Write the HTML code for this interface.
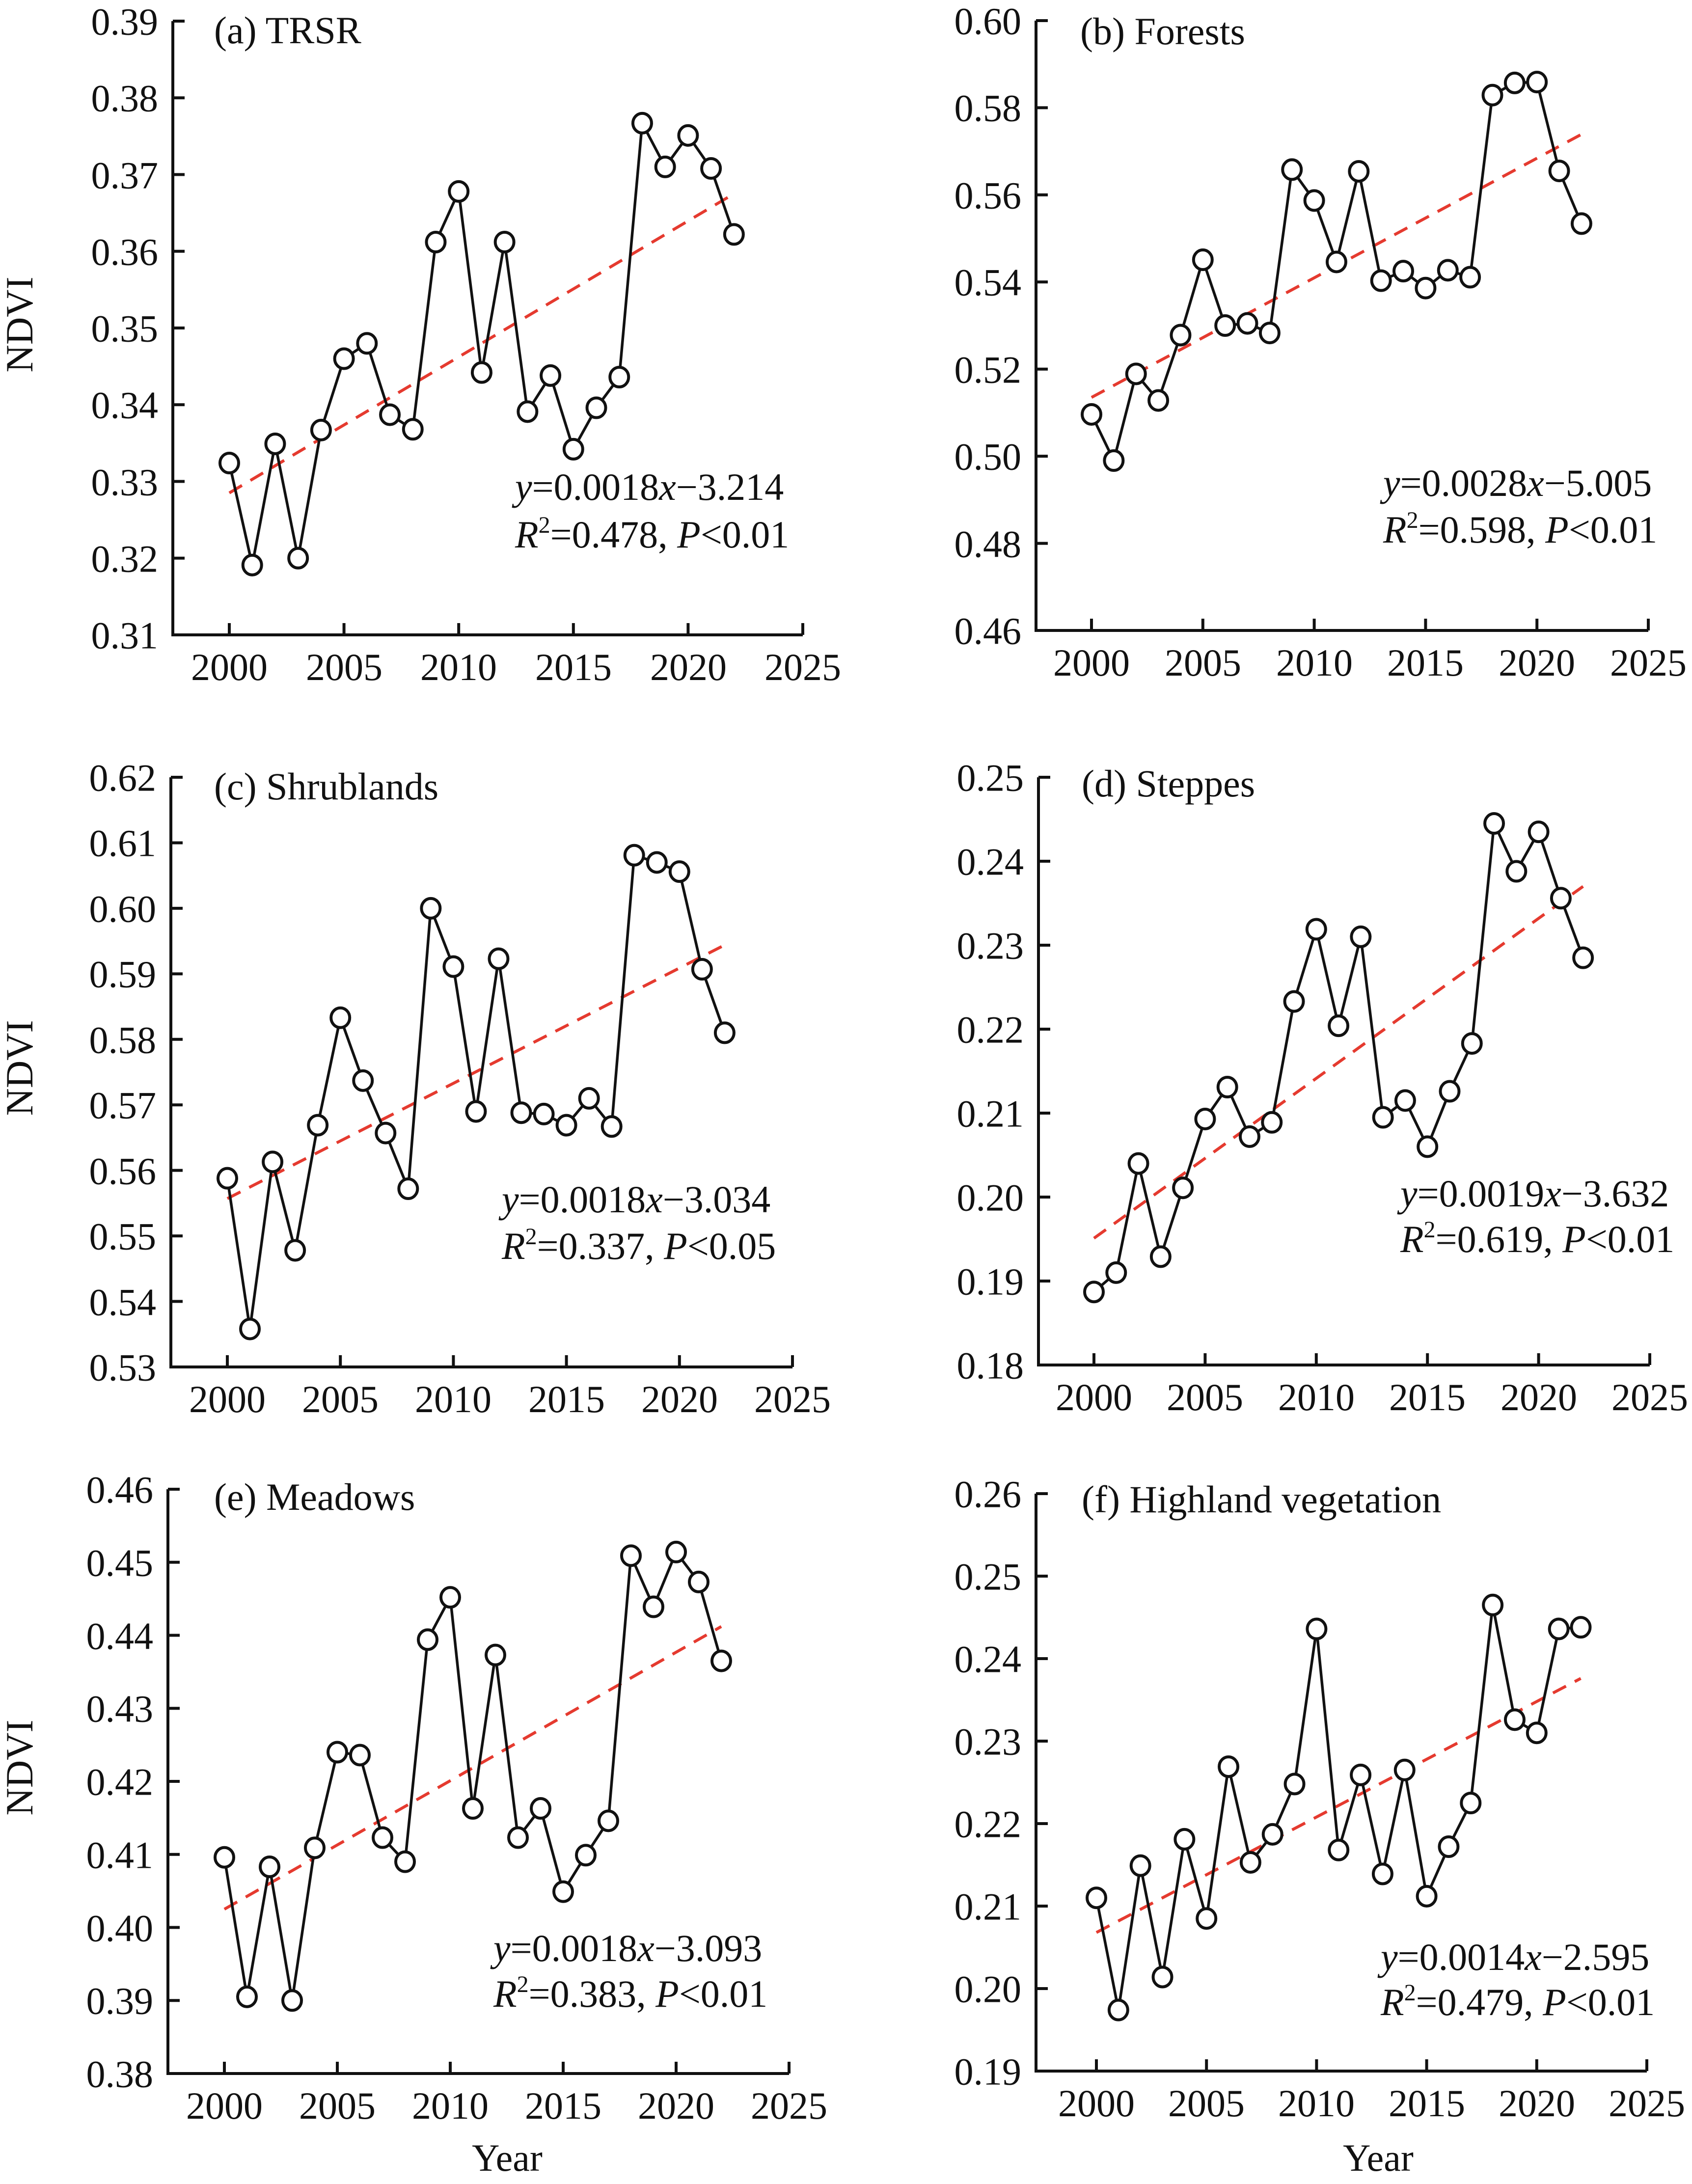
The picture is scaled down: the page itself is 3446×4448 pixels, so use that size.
<!DOCTYPE html>
<html><head><meta charset="utf-8">
<style>
html,body{margin:0;padding:0;background:#fff;}
svg{display:block;}
svg, svg text{font-family:"Liberation Serif","DejaVu Serif","Times New Roman",serif;fill:#111;font-size:78px;}
.yl{text-anchor:end;}
.xl{text-anchor:middle;}
</style></head><body>
<svg id="s" width="3446" height="4448" viewBox="0 0 3446 4448" xmlns="http://www.w3.org/2000/svg" font-family="Liberation Serif, DejaVu Serif, serif" font-size="78">
<g id="plots"></g>
<!-- Panel a -->
<g class="yl">
<text class="yl" x="322" y="43" dy="0.35em">0.39</text>
<text class="yl" x="322" y="199" dy="0.35em">0.38</text>
<text class="yl" x="322" y="356" dy="0.35em">0.37</text>
<text class="yl" x="322" y="512" dy="0.35em">0.36</text>
<text class="yl" x="322" y="668" dy="0.35em">0.35</text>
<text class="yl" x="322" y="824" dy="0.35em">0.34</text>
<text class="yl" x="322" y="981" dy="0.35em">0.33</text>
<text class="yl" x="322" y="1137" dy="0.35em">0.32</text>
<text class="yl" x="322" y="1293" dy="0.35em">0.31</text>
</g>
<text class="xl" x="467" y="1385">2000</text><text class="xl" x="701" y="1385">2005</text><text class="xl" x="934" y="1385">2010</text><text class="xl" x="1168" y="1385">2015</text><text class="xl" x="1402" y="1385">2020</text><text class="xl" x="1635" y="1385">2025</text>
<text x="436" y="88">(a) TRSR</text>
<text x="1049" y="1018"><tspan font-style="italic">y</tspan>=0.0018<tspan font-style="italic">x</tspan>−3.214</text>
<text x="1049" y="1115"><tspan font-style="italic">R</tspan><tspan font-size="48" dy="-30">2</tspan><tspan dy="30">=0.478, </tspan><tspan font-style="italic">P</tspan>&lt;0.01</text>
<text class="xl" transform="translate(66,661) rotate(-90)">NDVI</text>

<!-- Panel b -->
<text class="yl" x="2080" y="42" dy="0.35em">0.60</text>
<text class="yl" x="2080" y="219" dy="0.35em">0.58</text>
<text class="yl" x="2080" y="397" dy="0.35em">0.56</text>
<text class="yl" x="2080" y="574" dy="0.35em">0.54</text>
<text class="yl" x="2080" y="752" dy="0.35em">0.52</text>
<text class="yl" x="2080" y="929" dy="0.35em">0.50</text>
<text class="yl" x="2080" y="1107" dy="0.35em">0.48</text>
<text class="yl" x="2080" y="1284" dy="0.35em">0.46</text>
<text class="xl" x="2223" y="1376">2000</text><text class="xl" x="2450" y="1376">2005</text><text class="xl" x="2677" y="1376">2010</text><text class="xl" x="2903" y="1376">2015</text><text class="xl" x="3130" y="1376">2020</text><text class="xl" x="3357" y="1376">2025</text>
<text x="2200" y="90">(b) Forests</text>
<text x="2817" y="1010"><tspan font-style="italic">y</tspan>=0.0028<tspan font-style="italic">x</tspan>−5.005</text>
<text x="2817" y="1105"><tspan font-style="italic">R</tspan><tspan font-size="48" dy="-30">2</tspan><tspan dy="30">=0.598, </tspan><tspan font-style="italic">P</tspan>&lt;0.01</text>

<!-- Panel c -->
<text class="yl" x="318" y="1583" dy="0.35em">0.62</text>
<text class="yl" x="318" y="1716" dy="0.35em">0.61</text>
<text class="yl" x="318" y="1850" dy="0.35em">0.60</text>
<text class="yl" x="318" y="1983" dy="0.35em">0.59</text>
<text class="yl" x="318" y="2117" dy="0.35em">0.58</text>
<text class="yl" x="318" y="2250" dy="0.35em">0.57</text>
<text class="yl" x="318" y="2384" dy="0.35em">0.56</text>
<text class="yl" x="318" y="2517" dy="0.35em">0.55</text>
<text class="yl" x="318" y="2651" dy="0.35em">0.54</text>
<text class="yl" x="318" y="2784" dy="0.35em">0.53</text>
<text class="xl" x="463" y="2876">2000</text><text class="xl" x="693" y="2876">2005</text><text class="xl" x="923" y="2876">2010</text><text class="xl" x="1154" y="2876">2015</text><text class="xl" x="1384" y="2876">2020</text><text class="xl" x="1614" y="2876">2025</text>
<text x="436" y="1628">(c) Shrublands</text>
<text x="1022" y="2469"><tspan font-style="italic">y</tspan>=0.0018<tspan font-style="italic">x</tspan>−3.034</text>
<text x="1022" y="2564"><tspan font-style="italic">R</tspan><tspan font-size="48" dy="-30">2</tspan><tspan dy="30">=0.337, </tspan><tspan font-style="italic">P</tspan>&lt;0.05</text>
<text class="xl" transform="translate(66,2175) rotate(-90)">NDVI</text>

<!-- Panel d -->
<text class="yl" x="2085" y="1583" dy="0.35em">0.25</text>
<text class="yl" x="2085" y="1754" dy="0.35em">0.24</text>
<text class="yl" x="2085" y="1925" dy="0.35em">0.23</text>
<text class="yl" x="2085" y="2096" dy="0.35em">0.22</text>
<text class="yl" x="2085" y="2267" dy="0.35em">0.21</text>
<text class="yl" x="2085" y="2438" dy="0.35em">0.20</text>
<text class="yl" x="2085" y="2609" dy="0.35em">0.19</text>
<text class="yl" x="2085" y="2780" dy="0.35em">0.18</text>
<text class="xl" x="2228" y="2872">2000</text><text class="xl" x="2454" y="2872">2005</text><text class="xl" x="2681" y="2872">2010</text><text class="xl" x="2907" y="2872">2015</text><text class="xl" x="3134" y="2872">2020</text><text class="xl" x="3360" y="2872">2025</text>
<text x="2203" y="1622">(d) Steppes</text>
<text x="2852" y="2457"><tspan font-style="italic">y</tspan>=0.0019<tspan font-style="italic">x</tspan>−3.632</text>
<text x="2852" y="2550"><tspan font-style="italic">R</tspan><tspan font-size="48" dy="-30">2</tspan><tspan dy="30">=0.619, </tspan><tspan font-style="italic">P</tspan>&lt;0.01</text>

<!-- Panel e -->
<text class="yl" x="312" y="3033" dy="0.35em">0.46</text>
<text class="yl" x="312" y="3182" dy="0.35em">0.45</text>
<text class="yl" x="312" y="3331" dy="0.35em">0.44</text>
<text class="yl" x="312" y="3479" dy="0.35em">0.43</text>
<text class="yl" x="312" y="3628" dy="0.35em">0.42</text>
<text class="yl" x="312" y="3777" dy="0.35em">0.41</text>
<text class="yl" x="312" y="3926" dy="0.35em">0.40</text>
<text class="yl" x="312" y="4074" dy="0.35em">0.39</text>
<text class="yl" x="312" y="4223" dy="0.35em">0.38</text>
<text class="xl" x="457" y="4315">2000</text><text class="xl" x="687" y="4315">2005</text><text class="xl" x="917" y="4315">2010</text><text class="xl" x="1147" y="4315">2015</text><text class="xl" x="1377" y="4315">2020</text><text class="xl" x="1607" y="4315">2025</text>
<text x="436" y="3075">(e) Meadows</text>
<text x="1005" y="3994"><tspan font-style="italic">y</tspan>=0.0018<tspan font-style="italic">x</tspan>−3.093</text>
<text x="1005" y="4087"><tspan font-style="italic">R</tspan><tspan font-size="48" dy="-30">2</tspan><tspan dy="30">=0.383, </tspan><tspan font-style="italic">P</tspan>&lt;0.01</text>
<text class="xl" transform="translate(66,3600) rotate(-90)">NDVI</text>
<text class="xl" x="1033" y="4421">Year</text>

<!-- Panel f -->
<text class="yl" x="2080" y="3042" dy="0.35em">0.26</text>
<text class="yl" x="2080" y="3210" dy="0.35em">0.25</text>
<text class="yl" x="2080" y="3378" dy="0.35em">0.24</text>
<text class="yl" x="2080" y="3546" dy="0.35em">0.23</text>
<text class="yl" x="2080" y="3714" dy="0.35em">0.22</text>
<text class="yl" x="2080" y="3882" dy="0.35em">0.21</text>
<text class="yl" x="2080" y="4050" dy="0.35em">0.20</text>
<text class="yl" x="2080" y="4218" dy="0.35em">0.19</text>
<text class="xl" x="2233" y="4310">2000</text><text class="xl" x="2457" y="4310">2005</text><text class="xl" x="2681" y="4310">2010</text><text class="xl" x="2906" y="4310">2015</text><text class="xl" x="3130" y="4310">2020</text><text class="xl" x="3354" y="4310">2025</text>
<text x="2203" y="3080">(f) Highland vegetation</text>
<text x="2812" y="4012"><tspan font-style="italic">y</tspan>=0.0014<tspan font-style="italic">x</tspan>−2.595</text>
<text x="2812" y="4104"><tspan font-style="italic">R</tspan><tspan font-size="48" dy="-30">2</tspan><tspan dy="30">=0.479, </tspan><tspan font-style="italic">P</tspan>&lt;0.01</text>
<text class="xl" x="2807" y="4421">Year</text>
</svg>
<script>
var P=[
{L:352,x0:467,x1:1635,T:43,B:1293,lo:0.31,hi:0.39,n:8,
d:[.3324,.3191,.3349,.3200,.3367,.3460,.3480,.3387,.3368,.3612,.3678,.3442,.3612,.3391,.3438,.3342,.3396,.3436,.3767,.3710,.3751,.3708,.3622],t:[.3285,.3675]},
{L:2110,x0:2223,x1:3357,T:42,B:1284,lo:0.46,hi:0.60,n:7,
d:[.5096,.4990,.5189,.5128,.5278,.5451,.5300,.5305,.5283,.5658,.5587,.5446,.5654,.5403,.5425,.5386,.5427,.5411,.5829,.5857,.5859,.5655,.5534],t:[.5135,.5739]},
{L:348,x0:463,x1:1614,T:1583,B:2784,lo:0.53,hi:0.62,n:9,
d:[.5588,.5358,.5613,.5478,.5669,.5833,.5737,.5657,.5572,.6000,.5911,.5690,.5923,.5688,.5686,.5669,.5710,.5667,.6081,.6070,.6056,.5907,.5810],t:[.5557,.5944]},
{L:2115,x0:2228,x1:3360,T:1583,B:2780,lo:0.18,hi:0.25,n:7,
d:[.1887,.1910,.2040,.1929,.2011,.2093,.2131,.2072,.2089,.2233,.2319,.2204,.2310,.2095,.2115,.2060,.2126,.2183,.2445,.2388,.2435,.2356,.2285],t:[.1951,.2370]},
{L:342,x0:457,x1:1607,T:3033,B:4223,lo:0.38,hi:0.46,n:8,
d:[.4096,.3905,.4083,.3900,.4109,.4240,.4236,.4123,.4090,.4394,.4452,.4163,.4373,.4123,.4163,.4049,.4099,.4146,.4509,.4439,.4514,.4473,.4365],t:[.4025,.4412]},
{L:2110,x0:2233,x1:3354,T:3042,B:4218,lo:0.19,hi:0.26,n:7,
d:[.2110,.1974,.2149,.2014,.2181,.2085,.2269,.2153,.2187,.2248,.2436,.2168,.2259,.2139,.2265,.2112,.2172,.2225,.2465,.2326,.2310,.2436,.2438],t:[.2068,.2376]}
];
var ns="http://www.w3.org/2000/svg",G=document.getElementById("plots");
function el(n,a){var e=document.createElementNS(ns,n);for(var k in a)e.setAttribute(k,a[k]);G.appendChild(e);return e;}
P.forEach(function(p){
 var X=function(i){return p.x0+(p.x1-p.x0)*i/25;};
 var Y=function(v){return p.B-(v-p.lo)/(p.hi-p.lo)*(p.B-p.T);};
 var s="M"+p.L+" "+p.T+" L"+p.L+" "+p.B+" L"+p.x1+" "+p.B;
 for(var i=0;i<p.n;i++){var y=p.T+(p.B-p.T)*i/p.n;s+=" M"+p.L+" "+y+" h24";}
 for(var j=0;j<=5;j++){var x=X(j*5);s+=" M"+x+" "+p.B+" v-24";}
 el("path",{d:s,fill:"none",stroke:"#111","stroke-width":6});
 el("line",{x1:X(0),y1:Y(p.t[0]),x2:X(22),y2:Y(p.t[1]),stroke:"#e53a2f","stroke-width":6,"stroke-dasharray":"30 20"});
 var pts=p.d.map(function(v,i){return X(i)+","+Y(v);}).join(" ");
 el("polyline",{points:pts,fill:"none",stroke:"#111","stroke-width":5.5});
 p.d.forEach(function(v,i){el("ellipse",{cx:X(i),cy:Y(v),rx:19,ry:20,fill:"#fff",stroke:"#111","stroke-width":6});});
});
</script>
</body></html>
